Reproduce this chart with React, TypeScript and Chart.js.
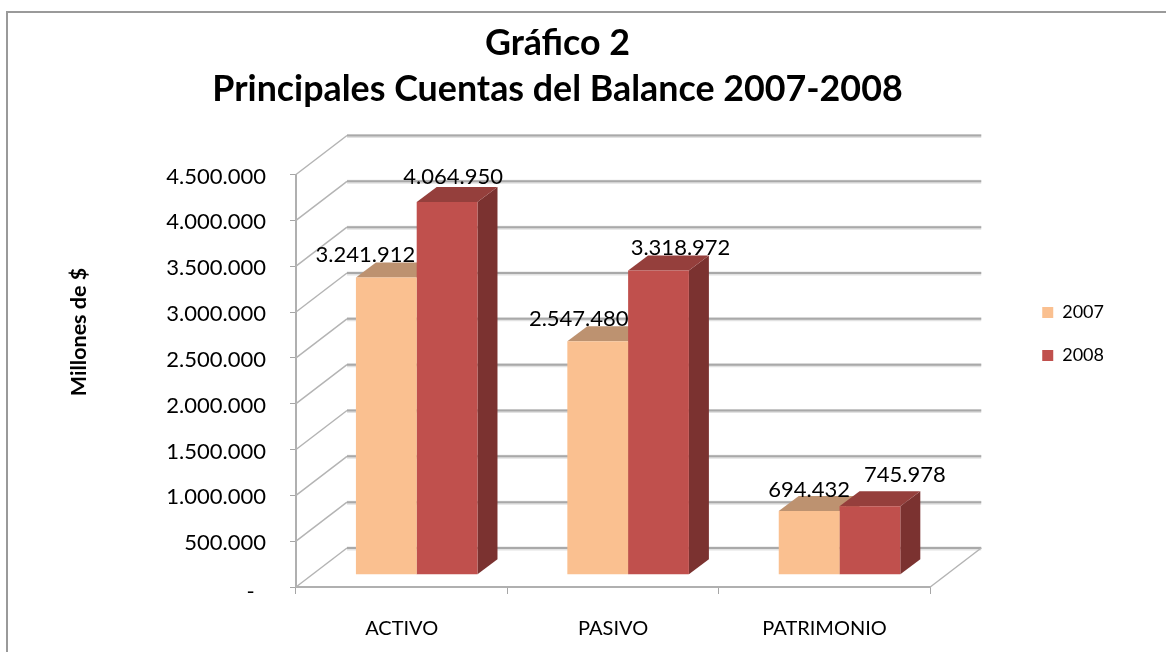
import React, { useEffect, useRef } from "react";
import { Chart, registerables } from "chart.js";

Chart.register(...registerables);

const categories = ["ACTIVO", "PASIVO", "PATRIMONIO"];
const seriesNames = ["2007", "2008"];
const values2007 = [3241912, 2547480, 694432];
const values2008 = [4064950, 3318972, 745978];
const axisMax = 4500000;
const axisStep = 500000;
const titleLines = ["Gráfico 2", "Principales Cuentas del Balance 2007-2008"];
const yAxisTitle = "Millones de $";

const FRONT = ["#fac090", "#c0504d"];
const TOP = ["#bd9270", "#953f3c"];
const SIDE = ["#a87d5c", "#7b3230"];
const FONT = "Lato, 'Open Sans', sans-serif";

// 3D projection
const WALL_DX = 51;
const WALL_DY = -39;
const BAR_SHIFT_X = 15;
const BAR_SHIFT_Y = -12.3;
const BAR_DEPTH_X = 20;
const BAR_DEPTH_Y = -15;
// hand placement of each value label, relative to its bar
const labelOffsets = [
  [[-21, -22.5], [-19, -22], [0, -21]],
  [[6, -25.5], [22, -22.5], [35, -31]],
];

const fmt = (v: number) => String(Math.round(v)).replace(/\B(?=(\d{3})+(?!\d))/g, ".");

const poly = (ctx: CanvasRenderingContext2D, pts: number[][], fill: string) => {
  ctx.beginPath();
  pts.forEach(([x, y], i) => (i ? ctx.lineTo(x, y) : ctx.moveTo(x, y)));
  ctx.closePath();
  ctx.fillStyle = fill;
  ctx.fill();
};

const depthPlugin = {
  id: "depth3d",
  afterLayout(chart: any) {
    // the title centres on the page part left of the overflowing frame
    chart.titleBlock.right = 1101;
    chart.legend.top += 2;
    chart.legend.bottom += 2;
  },
  beforeDatasetsDraw(chart: any) {
    const { ctx, chartArea, scales } = chart;
    const { left, right, bottom } = chartArea;
    const y = scales.y;
    ctx.save();
    // back-wall grid lines and the diagonals on the side wall
    for (let v = 0; v <= axisMax; v += axisStep) {
      const py = y.getPixelForValue(v);
      ctx.lineCap = "butt";
      ctx.strokeStyle = "#b4b4b4";
      ctx.lineWidth = 1.5;
      ctx.beginPath();
      ctx.moveTo(left, py);
      ctx.lineTo(left + WALL_DX, py + WALL_DY);
      ctx.stroke();
      ctx.strokeStyle = "#e2e2e2";
      ctx.lineWidth = 4;
      ctx.beginPath();
      ctx.moveTo(left + WALL_DX, py + WALL_DY + 0.5);
      ctx.lineTo(right + WALL_DX, py + WALL_DY + 0.5);
      ctx.stroke();
      ctx.strokeStyle = "#a9a9a9";
      ctx.lineWidth = 2;
      ctx.beginPath();
      ctx.moveTo(left + WALL_DX, py + WALL_DY);
      ctx.lineTo(right + WALL_DX, py + WALL_DY);
      ctx.stroke();
    }
    // right edge of the floor
    ctx.strokeStyle = "#b4b4b4";
    ctx.lineWidth = 1.5;
    ctx.beginPath();
    ctx.moveTo(right, bottom);
    ctx.lineTo(right + WALL_DX, bottom + WALL_DY);
    ctx.stroke();
    ctx.restore();

    ctx.save();
    ctx.translate(BAR_SHIFT_X, BAR_SHIFT_Y);
    // top and side faces; the library paints the front faces over them
    chart.data.datasets.forEach((_: any, d: number) => {
      chart.getDatasetMeta(d).data.forEach((el: any) => {
        const x0 = el.x - el.width / 2;
        const x1 = el.x + el.width / 2;
        poly(ctx, [[x1, el.y], [x1 + BAR_DEPTH_X, el.y + BAR_DEPTH_Y], [x1 + BAR_DEPTH_X, el.base + BAR_DEPTH_Y], [x1, el.base]], SIDE[d]);
        poly(ctx, [[x0, el.y], [x1, el.y], [x1 + BAR_DEPTH_X, el.y + BAR_DEPTH_Y], [x0 + BAR_DEPTH_X, el.y + BAR_DEPTH_Y]], TOP[d]);
      });
    });
  },
  afterDatasetsDraw(chart: any) {
    const { ctx } = chart;
    ctx.restore();
    ctx.save();
    ctx.font = `22px ${FONT}`;
    ctx.fillStyle = "#000";
    ctx.textAlign = "center";
    ctx.textBaseline = "middle";
    chart.data.datasets.forEach((ds: any, d: number) => {
      chart.getDatasetMeta(d).data.forEach((el: any, i: number) => {
        const [ox, oy] = labelOffsets[d][i];
        ctx.fillText(fmt(ds.data[i]), el.x + BAR_SHIFT_X + ox, el.y + BAR_SHIFT_Y + oy);
      });
    });
    ctx.restore();
  },
  afterDraw(chart: any) {
    const { ctx } = chart;
    ctx.save();
    ctx.translate(72, 320);
    ctx.rotate(-Math.PI / 2);
    ctx.font = `bold 21.5px ${FONT}`;
    ctx.fillStyle = "#000";
    ctx.textAlign = "center";
    ctx.textBaseline = "middle";
    ctx.fillText(yAxisTitle, 0, 0);
    ctx.restore();
  },
};

export default function App() {
  const ref = useRef<HTMLCanvasElement>(null);
  useEffect(() => {
    const chart = new Chart(ref.current as HTMLCanvasElement, {
      type: "bar",
      plugins: [depthPlugin],
      data: {
        labels: categories,
        datasets: [
          { label: seriesNames[0], data: values2007, backgroundColor: FRONT[0], borderWidth: 0, clip: false },
          { label: seriesNames[1], data: values2008, backgroundColor: FRONT[1], borderWidth: 0, clip: false },
        ],
      },
      options: {
        responsive: false,
        animation: false,
        layout: { padding: { right: 52 } },
        datasets: { bar: { categoryPercentage: 0.575, barPercentage: 1 } },
        plugins: {
          tooltip: { enabled: false },
          title: {
            display: true,
            text: titleLines,
            color: "#000",
            font: { family: FONT, size: 35.8, weight: "bold", lineHeight: 46 / 35.8 },
            padding: { top: 8, bottom: 62.5 },
          },
          legend: {
            position: "right",
            labels: {
              boxWidth: 11,
              boxHeight: 11,
              padding: 25,
              color: "#000",
              font: { family: FONT, size: 18 },
            },
          },
        },
        scales: {
          x: {
            grid: { display: true, drawOnChartArea: false, color: "#a6a6a6", tickLength: 7, lineWidth: 1 },
            border: { display: true, color: "#b0b0b0", width: 2 },
            ticks: { color: "#000", padding: 23, font: { family: FONT, size: 20 }, maxRotation: 0 },
            afterFit(s: any) { s.height = 65; },
          },
          y: {
            min: 0,
            max: axisMax,
            grid: { display: true, drawOnChartArea: false, color: "#a6a6a6", tickLength: 6, lineWidth: 1 },
            border: { display: true, color: "#b0b0b0", width: 2 },
            ticks: {
              stepSize: axisStep,
              autoSkip: false,
              color: "#000",
              padding: 24,
              font: (c: any) => ({ family: FONT, size: 22, lineHeight: c.tick && c.tick.value === 0 ? "10px" : "4px" }),
              callback: (v: any) => ["", Number(v) === 0 ? "-\u00a0\u00a0" : fmt(Number(v))],
            },
            afterFit(s: any) { s.width = 289; },
          },
          gap: {
            type: "linear",
            position: "right",
            display: true,
            grid: { display: false },
            border: { display: false },
            ticks: { display: false },
            afterFit(s: any) { s.width = 87; },
          },
        },
      } as any,
    });
    return () => chart.destroy();
  }, []);
  return (
    <div style={{ position: "fixed", left: 0, top: 0, width: 1166, height: 652, overflow: "hidden", background: "#fff", filter: "blur(0.5px)" }}>
      <div style={{ position: "absolute", left: 6, top: 11, width: 1200, height: 700, borderLeft: "2px solid #9a9a9a", borderTop: "2px solid #9a9a9a" }} />
      <canvas ref={ref} width={1159} height={640} style={{ position: "absolute", left: 7, top: 12, width: 1159, height: 640 }} />
    </div>
  );
}
